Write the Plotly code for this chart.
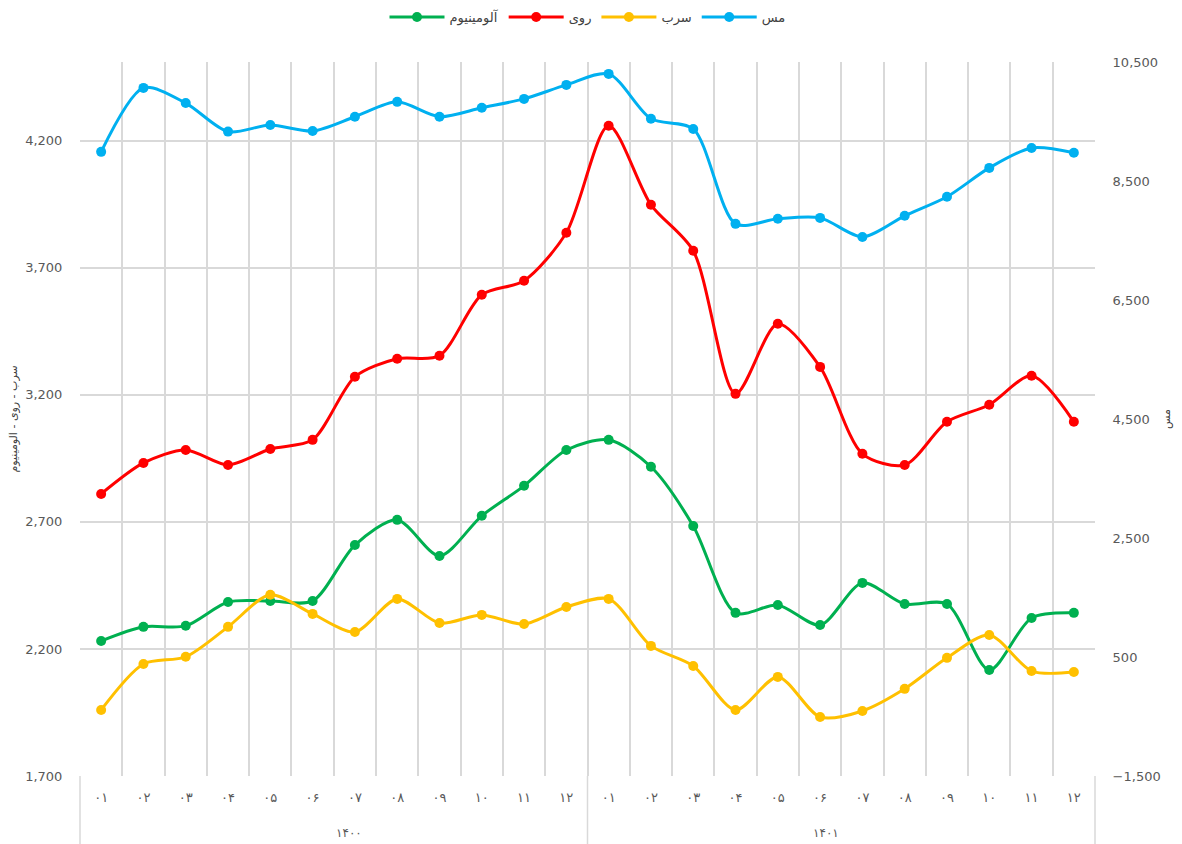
import plotly.graph_objects as go

years = ["۱۴۰۰"] * 12 + ["۱۴۰۱"] * 12
months = ["۰۱", "۰۲", "۰۳", "۰۴", "۰۵", "۰۶", "۰۷", "۰۸", "۰۹", "۱۰", "۱۱", "۱۲"] * 2
year_labels = ["۱۴۰۰", "۱۴۰۱"]

copper = [8990, 10065, 9810, 9330, 9440, 9340, 9580, 9830, 9580, 9730, 9880, 10115,
          10300, 9545, 9375, 7780, 7865, 7880, 7560, 7915, 8235, 8720, 9055, 8975]
zinc = [2810, 2932, 2983, 2924, 2987, 3023, 3271, 3342, 3354, 3594, 3649, 3838,
        4259, 3948, 3767, 3204, 3480, 3310, 2968, 2924, 3094, 3161, 3275, 3094]
aluminium = [2231, 2287, 2291, 2385, 2389, 2389, 2609, 2708, 2566, 2724, 2842, 2983,
             3023, 2917, 2684, 2342, 2373, 2294, 2460, 2377, 2377, 2117, 2322, 2342]
lead = [1960, 2141, 2169, 2287, 2413, 2338, 2267, 2397, 2302, 2334, 2298, 2365,
        2397, 2212, 2133, 1960, 2090, 1932, 1956, 2043, 2165, 2255, 2113, 2109]

names = {"copper": "مس", "lead": "سرب", "zinc": "روی", "aluminium": "آلومینیوم"}
colors = {"copper": "#00B0F0", "lead": "#FFC000", "zinc": "#FF0000", "aluminium": "#00B050"}
left_title = "سرب - روی - آلومینیوم"
right_title = "مس"

cats = [f"{y}-{m}" for y, m in zip(years, months)]
fig = go.Figure()

def add(key, vals, axis):
    fig.add_trace(go.Scatter(
        x=cats, y=vals, name=names[key], yaxis=axis,
        mode="lines+markers",
        line=dict(color=colors[key], width=3, shape="spline", smoothing=0.8),
        marker=dict(color=colors[key], size=10),
    ))

add("aluminium", aluminium, "y")
add("zinc", zinc, "y")
add("lead", lead, "y")
add("copper", copper, "y2")

grid = "#D9D9D9"
font_family = "DejaVu Sans, Verdana, sans-serif"
fig.update_layout(
    width=1174, height=836,
    paper_bgcolor="white", plot_bgcolor="white",
    margin=dict(l=72, r=87, t=54, b=68, autoexpand=False),
    font=dict(family=font_family, size=13, color="#595959"),
    showlegend=True,
    legend=dict(orientation="h", x=0.5, xanchor="center", y=1.063, yanchor="middle",
                font=dict(size=13, color="#404040"), itemwidth=55),
    xaxis=dict(
        type="category", categoryorder="array", categoryarray=cats,
        tickvals=cats, ticktext=months, range=[-0.5, len(cats) - 0.5],
        tickson="boundaries",
        showgrid=True, gridcolor=grid, gridwidth=1.5,
        ticks="", ticklabelstandoff=12, tickfont=dict(size=13, color="#595959"),
        showline=False, zeroline=False, automargin=False,
    ),
    yaxis=dict(
        range=[1700, 4510], tick0=1700, dtick=500, tickformat=",d",
        showgrid=True, gridcolor=grid, gridwidth=1.5,
        zeroline=False, showline=False, ticks="outside", ticklen=14, tickcolor="rgba(0,0,0,0)",
        tickfont=dict(size=13), automargin=False,
    ),
    yaxis2=dict(
        overlaying="y", side="right",
        range=[-1500, 10500], tick0=-1500, dtick=2000, tickformat=",d",
        showgrid=False, zeroline=False, showline=False,
        ticks="outside", ticklen=14, tickcolor="rgba(0,0,0,0)",
        tickfont=dict(size=13), automargin=False,
    ),
)

# axis titles
fig.add_annotation(xref="paper", yref="paper", x=-0.0665, y=0.5, text=left_title,
                   textangle=-90, showarrow=False, font=dict(size=11, color="#404040"),
                   xanchor="center", yanchor="middle")
fig.add_annotation(xref="paper", yref="paper", x=1.07, y=0.5, text=right_title,
                   textangle=-90, showarrow=False, font=dict(size=11, color="#404040"),
                   xanchor="center", yanchor="middle")

# group labels and group separator lines below the plot area
for i, yl in enumerate(year_labels):
    fig.add_annotation(xref="paper", yref="paper", x=0.25 + 0.5 * i, y=-0.08,
                       text=yl, showarrow=False, font=dict(size=12, color="#595959"),
                       yanchor="middle")
for xp in [0, 0.5, 1]:
    fig.add_shape(type="line", xref="paper", yref="paper", x0=xp, x1=xp, y0=-0.1, y1=0,
                  line=dict(color=grid, width=1.5))

fig.write_html("out.html")
